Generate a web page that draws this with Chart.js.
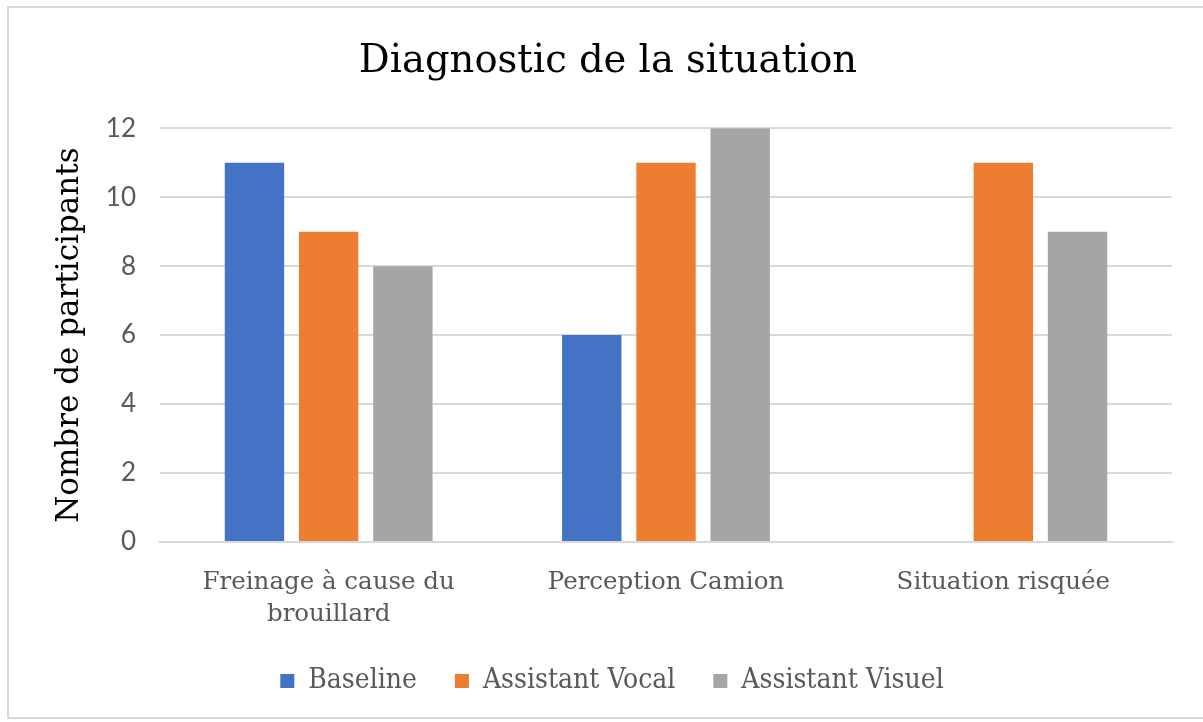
<!DOCTYPE html>
<html>
<head>
<meta charset="utf-8">
<script src="https://cdn.jsdelivr.net/npm/chart.js@4"></script>
<style>
  body { margin: 0; background: #fff; }
  #wrap { position: relative; width: 1203px; height: 722px; overflow: hidden; }
  #frame { position: absolute; left: 7px; top: 6px; width: 1210px; height: 713px; border: 2px solid #d9d9d9; box-sizing: border-box; }
  canvas { position: absolute; left: 0; top: 0; }
</style>
</head>
<body>
<div id="wrap">
  <div id="frame"></div>
  <canvas id="diag" width="1203" height="722"></canvas>
</div>
<script>
var categories = [['Freinage à cause du', 'brouillard'], 'Perception Camion', 'Situation risquée'];
var baseline = [11, 6, 0];
var vocal = [9, 11, 11];
var visuel = [8, 12, 9];

var serif = "'DejaVu Serif', 'Liberation Serif', serif";
var serifNarrow = "'DejaVu Serif Condensed', 'DejaVu Serif', serif";
var sans = "'Lato', 'Open Sans', sans-serif";

// centre title and legend on the whole canvas rather than on the padded box
var recentre = {
  id: 'recentre',
  afterLayout: function (chart) {
    chart.titleBlock.left = 13;
    chart.titleBlock.right = 1203;
    chart.legend.left = 30;
    chart.legend.right = 1194;
  }
};

window.addEventListener('load', function () {
  var ctx = document.getElementById('diag').getContext('2d');
  var chart = new Chart(ctx, {
    type: 'bar',
    data: {
      labels: categories,
      datasets: [
        { label: 'Baseline', data: baseline, backgroundColor: '#4472C4' },
        { label: 'Assistant Vocal', data: vocal, backgroundColor: '#ED7D31' },
        { label: 'Assistant Visuel', data: visuel, backgroundColor: '#A5A5A5' }
      ]
    },
    plugins: [recentre],
    options: {
      responsive: false,
      animation: false,
      layout: { padding: { left: 8, right: 31, top: 0, bottom: 17 } },
      datasets: { bar: { categoryPercentage: 0.66, barPercentage: 0.8 } },
      plugins: {
        title: {
          display: true,
          text: 'Diagnostic de la situation',
          color: '#000',
          font: { family: serif, size: 38.5, weight: 'normal', lineHeight: 1.2 },
          padding: { top: 39, bottom: 43 }
        },
        legend: {
          position: 'bottom',
          labels: {
            color: '#595959',
            font: { family: serifNarrow, size: 28 },
            boxWidth: 14,
            boxHeight: 14,
            padding: 38
          }
        },
        tooltip: { enabled: false }
      },
      scales: {
        x: {
          grid: { display: false },
          border: { color: '#d9d9d9', width: 2 },
          ticks: { color: '#595959', font: { family: serif, size: 24.5, lineHeight: 1.3 }, padding: 17, maxRotation: 0 },
          afterFit: function (scale) { scale.height = 87; }
        },
        y: {
          min: 0,
          max: 12,
          ticks: { stepSize: 2, color: '#595959', font: { family: sans, size: 26 }, padding: 24 },
          grid: { color: '#d9d9d9', lineWidth: 2, drawTicks: false },
          border: { display: false },
          title: {
            display: true,
            text: 'Nombre de participants',
            color: '#000',
            font: { family: serif, size: 31 },
            padding: { top: 43, bottom: 0 }
          },
          afterFit: function (scale) { scale.width = 152; }
        }
      }
    }
  });
});
</script>
</body>
</html>
